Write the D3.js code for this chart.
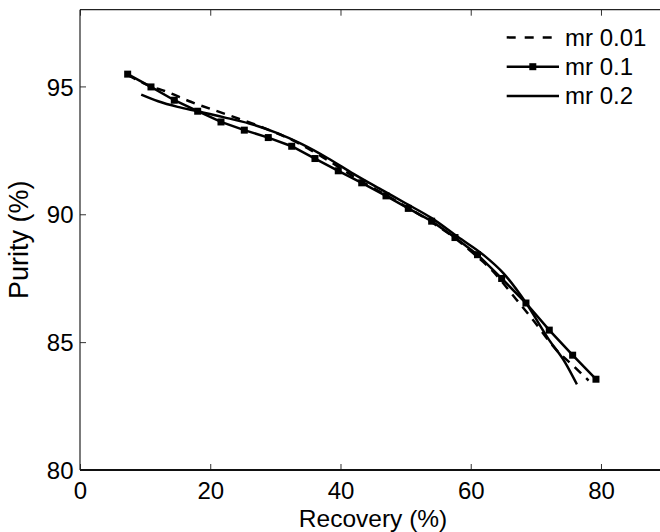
<!DOCTYPE html>
<html>
<head>
<meta charset="utf-8">
<script src="https://cdn.jsdelivr.net/npm/d3@7"></script>
<style>
  html, body { margin: 0; padding: 0; background: #fff; }
  svg { display: block; }
  text { font-family: "Liberation Sans", Arial, Helvetica, sans-serif; fill: #000; }
</style>
</head>
<body>
<svg id="chart" width="660" height="532"></svg>
<script>
// ---- data ----
const xTicks = [0, 20, 40, 60, 80];
const yTicks = [80, 85, 90, 95];

// mr 0.01 (dashed)
const mr001X = [7.3, 10.9, 13.0, 17.0, 23.0, 28.0, 33.0, 38.0, 43.0, 48.0, 53.0, 57.5, 60.4, 63.0, 67.0, 69.4, 73.2, 75.8, 78.1];
const mr001Y = [95.45, 95.0, 94.82, 94.4, 93.86, 93.4, 92.85, 92.12, 91.32, 90.6, 89.85, 89.08, 88.47, 87.88, 86.67, 85.92, 84.68, 84.06, 83.5];

// mr 0.1 (solid with square markers)
const mr01X = [7.32, 10.90, 14.48, 18.07, 21.65, 25.23, 28.91, 32.51, 36.08, 39.66, 43.26, 46.99, 50.41, 54.00, 57.58, 61.04, 64.75, 68.48, 72.06, 75.65, 79.23];
const mr01Y = [95.48, 94.98, 94.46, 94.03, 93.61, 93.29, 93.00, 92.66, 92.18, 91.70, 91.23, 90.72, 90.23, 89.73, 89.09, 88.42, 87.49, 86.53, 85.47, 84.49, 83.55];

// mr 0.2 (solid)
const mr02X = [9.4, 12.0, 15.0, 18.0, 22.0, 26.0, 30.0, 34.0, 38.0, 42.0, 46.0, 50.0, 54.0, 58.0, 62.0, 65.0, 68.5, 72.0, 74.5, 76.3];
const mr02Y = [94.68, 94.42, 94.2, 94.03, 93.8, 93.55, 93.2, 92.75, 92.2, 91.58, 91.0, 90.43, 89.85, 89.12, 88.4, 87.7, 86.53, 85.1, 84.2, 83.35];

const legendLabels = ["mr 0.01", "mr 0.1", "mr 0.2"];

// ---- drawing ----
const svg = d3.select("#chart");
const x = d3.scaleLinear().domain([0, 90]).range([80, 666.1]);
const y = d3.scaleLinear().domain([80, 98]).range([470, 9.7]);

const zip = (xs, ys) => xs.map((v, i) => [v, ys[i]]);
const d001 = zip(mr001X, mr001Y);
const d01 = zip(mr01X, mr01Y);
const d02 = zip(mr02X, mr02Y);

// axes with inward ticks
const gx = svg.append("g").attr("transform", `translate(0,${y(80)})`)
  .call(d3.axisBottom(x).tickValues(xTicks).tickSize(-6).tickPadding(12).tickFormat(d3.format("d")));
gx.select(".domain").remove();
gx.selectAll("line").attr("stroke", "#333").attr("stroke-width", 1);
gx.selectAll("text").attr("font-size", 24).attr("font-family", "Liberation Sans, Arial, sans-serif");

const gxTop = svg.append("g").attr("transform", `translate(0,${y(98)})`)
  .call(d3.axisTop(x).tickValues(xTicks).tickSize(-6).tickFormat(""));
gxTop.select(".domain").remove();
gxTop.selectAll("line").attr("stroke", "#333").attr("stroke-width", 1);

const gy = svg.append("g").attr("transform", `translate(${x(0)},0)`)
  .call(d3.axisLeft(y).tickValues(yTicks).tickSize(-6).tickPadding(6.5).tickFormat(d3.format("d")));
gy.select(".domain").remove();
gy.selectAll("line").attr("stroke", "#333").attr("stroke-width", 1);
gy.selectAll("text").attr("font-size", 24).attr("dy", "0.36em").attr("font-family", "Liberation Sans, Arial, sans-serif");

// frame
svg.append("line").attr("x1", x(0)).attr("x2", 660).attr("y1", y(80)).attr("y2", y(80))
  .attr("stroke", "#111").attr("stroke-width", 2);
svg.append("line").attr("x1", x(0)).attr("x2", 660).attr("y1", y(98)).attr("y2", y(98))
  .attr("stroke", "#222").attr("stroke-width", 1.2);
svg.append("line").attr("x1", x(0)).attr("x2", x(0)).attr("y1", y(98)).attr("y2", y(80))
  .attr("stroke", "#222").attr("stroke-width", 1.2);

// axis titles
svg.append("text").attr("x", (x(0) + x(90)) / 2).attr("y", 526.5).attr("text-anchor", "middle")
  .attr("font-size", 24.5).text("Recovery (%)");
svg.append("text").attr("transform", `translate(28,${(y(80) + y(98)) / 2}) rotate(-90)`)
  .attr("text-anchor", "middle").attr("font-size", 27).text("Purity (%)");

// lines
const smooth = d3.line().x(d => x(d[0])).y(d => y(d[1])).curve(d3.curveMonotoneX);
const straight = d3.line().x(d => x(d[0])).y(d => y(d[1]));

svg.append("path").attr("d", smooth(d02)).attr("fill", "none")
  .attr("stroke", "#000").attr("stroke-width", 2.5);
svg.append("path").attr("d", smooth(d001)).attr("fill", "none")
  .attr("stroke", "#000").attr("stroke-width", 2.5).attr("stroke-dasharray", "9,7");
svg.append("path").attr("d", straight(d01)).attr("fill", "none")
  .attr("stroke", "#000").attr("stroke-width", 2.5);
svg.selectAll("rect.mk").data(d01).enter().append("rect").attr("class", "mk")
  .attr("x", d => x(d[0]) - 3.5).attr("y", d => y(d[1]) - 3.5)
  .attr("width", 7).attr("height", 7).attr("fill", "#000");

// legend
const lg = svg.append("g");
const rowY = [37.4, 66.7, 96];
legendLabels.forEach((lab, i) => {
  const ly = rowY[i];
  const ln = lg.append("line").attr("x1", 506.7).attr("x2", 559).attr("y1", ly).attr("y2", ly)
    .attr("stroke", "#000").attr("stroke-width", 2.5);
  if (i === 0) ln.attr("stroke-dasharray", "9,9");
  if (i === 1) lg.append("rect").attr("x", 532.8 - 3.5).attr("y", ly - 3.5).attr("width", 7).attr("height", 7).attr("fill", "#000");
  lg.append("text").attr("x", 565).attr("y", ly + 8.4).attr("font-size", 24).text(lab);
});
</script>
</body>
</html>
